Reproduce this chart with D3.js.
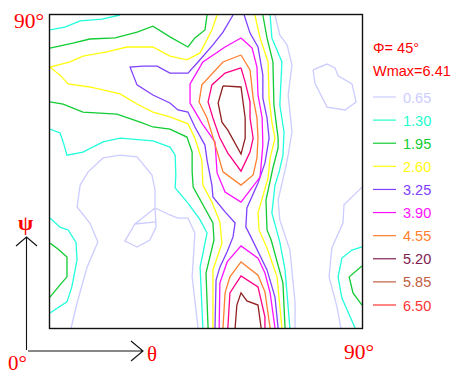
<!DOCTYPE html>
<html><head><meta charset="utf-8">
<script src="https://cdn.jsdelivr.net/npm/d3@7"></script>
<style>html,body{margin:0;background:#fff}svg{display:block}</style></head>
<body><script>
// Contour levels of the pole figure (theta, psi in degrees)
const legendLabels = ["0.65","1.30","1.95","2.60","3.25","3.90","4.55","5.20","5.85","6.50"];
const legendColors = ["#ccccff","#22ffcc","#11cc33","#ffff11","#8040ff","#ff11ff","#ff8030","#802050","#c06040","#ff3333"];
const lineColors   = ["#ccccff","#22ffdd","#11cc33","#ffff11","#8040ff","#ff11ff","#ff8030","#ff0088","#902020"];

const level065 = [
 [[6.1,0],[7.8,7.2],[10.7,17.5],[13.8,24.7],[11.5,30.2],[7.8,34.8],[8.7,41.1],[11,44.9],[15.3,48.9],[20.2,49.7],[25.1,49.2],[29.4,44],[30.3,39.7],[30.3,34.5],[30.6,29],[28.8,25.3],[25.1,23.3],[21.6,25],[24.5,29.9],[30.3,34.5],[34.6,32.5],[36.9,31.6],[39.8,31.6],[41.8,27.3],[41,14.7],[42.7,0]],
 [[24.5,29.9],[30.6,30.5]],
 [[64.9,90],[66.3,84.2],[68.4,81.4],[69.8,75.6],[68.7,67],[69.8,56.4],[68.7,49.7],[67.8,45.4],[65.8,36.8],[66.3,31.1],[69.2,22.4],[70.7,7.2],[70.7,0]],
 [[90,40.5],[84.8,35.4],[84.5,30.2],[81.3,23],[80.5,14.7],[82.8,6],[83.9,0]],
 [[75.9,74.2],[79.9,75.9],[82.2,74.8],[83.1,72.5],[87.1,70.2],[88.3,65],[85.1,62.7],[79.9,63.5],[76.4,70.4],[75.9,74.2]]
];
const level130 = [
 [[0,85.7],[4.3,86.5],[8.7,88.3],[15,88.8],[20.2,90]],
 [[0,57.2],[2.9,56.1],[3.8,53.5],[4.9,49.7],[9.5,50.6],[15.3,53.5],[20.2,54.6],[29.7,53.8],[34.6,52],[36.1,49.7],[36.3,44],[36.1,40.3],[39.8,35.9],[43.3,31.1],[45.3,27.3],[43.3,17.5],[44.1,0]],
 [[63.5,90],[64,83.4],[66.9,76.5],[66.3,64.1],[67.5,56.4],[67.2,49.7],[66.1,44.9],[64.9,41.1],[64,33.1],[66.3,24.7],[67.8,16.7],[69.2,0]],
 [[0,31.6],[2.9,29],[5.2,28.2],[7.5,24.7],[7.8,19.6],[6.3,11.8],[4.9,7.5],[0,4.3]],
 [[90,23.3],[87.1,22.4],[84.2,20.1],[83.1,14.7],[84.2,8.6],[88,0]]
];
const level195 = [
 [[0,80.5],[6.6,81.9],[11.5,83.1],[18.8,83.4],[25.1,85.1],[29.7,86.8],[34.6,83.7],[39.8,80.8],[41.8,83.4],[44.7,85.7],[45.3,90]],
 [[0,65],[3.8,64.4],[9.5,62.1],[19.3,61.5],[26,59.2],[29.7,57.8],[34.6,57.2],[39.5,54.9],[41,50.6],[41,44.9],[41.3,40.5],[47,30.2],[47.3,25.3],[45,15.8],[45.6,0]],
 [[61.4,90],[62.6,83.4],[64.3,76.5],[64.6,64.1],[65.8,54.6],[65.8,51.8],[64.3,46],[62.3,36.8],[62.6,28.2],[63.8,25.3],[67.2,12.9],[67.8,0]],
 [[0,24.4],[2.3,22.7],[4.9,20.4],[4.9,14.7],[2.9,12.4],[0,8.9]],
 [[90,17.8],[86.3,14.7],[87.4,10.1],[90,6.6]]
];
const level260 = [
 [[48.2,90],[46.7,85.7],[43.3,79.1],[39.5,77.1],[34.6,78.2],[29.7,80.8],[22.2,80.8],[16.4,79.4],[9.5,78.2],[5.8,76.5],[0,75],[2.9,72.7],[5.2,70.2],[11.5,69.3],[20.2,67.3],[25.1,64.4],[29.7,62.1],[34.6,60.7],[39.8,58.7],[41.8,54.6],[43.8,48.3],[44.1,41.1],[46.7,36.2],[49,30.5],[49.6,24.4],[47,16.7],[47,0]],
 [[59.1,90],[60.6,83.4],[62.9,76.5],[63.2,66.1],[64,59.2],[64.9,54.6],[63.5,48.9],[62.9,43.1],[60,33.1],[60.3,28.2],[62.6,23],[65.5,14.7],[66.9,0]]
];
const level325 = [
 [[52.8,90],[49.9,85.1],[47,81.4],[42.7,76.5],[39.8,73.3],[34.6,73.3],[30.9,75.3],[26.8,75.3],[23.1,75],[25.1,69.9],[29.7,67],[34.6,64.7],[36.9,62.7],[39.8,62.1],[41.8,57.8],[44.7,52.6],[45.3,48.3],[46.7,41.1],[47,37.7],[50.5,33.4],[53.4,30.2],[52.8,26.2],[51.1,21.9],[49,17.5],[47.9,13.8],[47.6,0]],
 [[56,90],[57.7,84.8],[60,80.8],[61.4,72.7],[61.4,66.1],[62.6,60.4],[63.2,54.6],[62,47.4],[60,41.7],[56.8,34.5],[56.5,29],[57.7,26.7],[62.6,16.7],[64.9,8.9],[65.8,0]]
];
const level390 = [
 [[55.1,83.4],[58.3,80.5],[59.7,75],[60,67],[61.2,60.4],[61.4,52.6],[60.6,43.4],[55.1,36.2],[50.5,39.1],[48.2,44.6],[47.6,53.5],[43.8,58.9],[40.4,64.7],[40.4,70.2],[44.1,76.5],[50.5,80.8],[55.1,83.4]],
 [[48.8,0],[49,12.9],[51.1,19],[55.1,23.6],[60,20.1],[62,15.8],[63.5,10.1],[64.9,0]]
];
const level455 = [
 [[55.1,78.5],[57.7,74.2],[58.6,66.1],[59.7,60.4],[60,54.6],[59.7,48.9],[58.6,44],[55.1,41.1],[49.9,44.9],[47,54.9],[45.3,60.4],[43,65],[43.8,69.9],[49.9,76.5],[55.1,78.5]],
 [[49.9,0],[50.5,10.1],[51.9,14.7],[55.1,19],[60,15.2],[62,10.4],[63.5,0]]
];
const level520 = [
 [[55.1,74.8],[56.3,70.7],[57.7,65],[57.7,60.4],[58.6,54.6],[57.7,50.6],[55.1,45.1],[51.3,50.3],[49,54.6],[47,60.4],[45.6,65],[46.7,69.9],[50.5,73.3],[55.1,74.8]],
 [[51.3,0],[51.9,10.1],[55.1,15],[60,11.8],[62,3.2],[62,0]]
];
const level585 = [
 [[49.9,69.6],[55.1,69.3],[56.3,60.4],[56.3,54.6],[55.1,50],[51.3,56.9],[49.6,59.2],[48.5,64.7],[49.9,69.6]],
 [[53.4,0],[53.9,6.6],[55.1,10.1],[56.8,7.8],[60,6.6],[60.9,0]]
];
const contourLevels = [level065,level130,level195,level260,level325,level390,level455,level520,level585];
const axisMax = 90;
const phiLabel = "Φ= 45°", wmaxLabel = "Wmax=6.41";

const W=464,H=379, L=50,R=362,T=15,B=328;
const svg=d3.select("body").append("svg").attr("width",W).attr("height",H);
const x=d3.scaleLinear().domain([0,axisMax]).range([L,R]);
const y=d3.scaleLinear().domain([0,axisMax]).range([B,T]);
const line=d3.line().x(d=>x(d[0])).y(d=>y(d[1]));

svg.append("g").selectAll("g").data(contourLevels).join("g")
  .attr("stroke",(d,i)=>lineColors[i]).attr("fill","none").attr("stroke-width",1.3)
  .selectAll("path").data(d=>d).join("path").attr("d",line);

svg.append("rect").attr("x",L-.5).attr("y",T-.5).attr("width",R-L+1).attr("height",B-T+1)
  .attr("fill","none").attr("stroke","#111").attr("stroke-width",1.4);

// Axis arrows
const ax=svg.append("g").attr("stroke","#111").attr("fill","none").attr("stroke-width",1.1);
ax.append("path").attr("d","M26.5,350V237M16,246L26.5,237L37,246");
ax.append("path").attr("d","M28,351H143M131,341L143,351L131,361");

const serif="'Liberation Serif',serif", sans="'Liberation Sans',Arial,sans-serif";
const txt=(s,px,py,size,fam,col="#ff0000")=>svg.append("text").attr("x",px).attr("y",py)
  .attr("font-family",fam).attr("font-size",size).attr("fill",col).text(s);
txt(axisMax+"°",14,28,21.5,serif);
txt(axisMax+"°",344,359,21.5,serif);
txt("0°",8,370,21,serif);
txt("θ",147,361,21,serif);
txt("ψ",18,230,22,serif).attr("font-weight","bold");
txt(phiLabel,373,53,14.5,sans);
txt(wmaxLabel,373,76,14.5,sans);

const legendY=d3.scalePoint().domain(legendLabels).range([97,305]);
const lg=svg.append("g").selectAll("g").data(legendLabels).join("g")
  .attr("transform",d=>`translate(0,${legendY(d)})`);
lg.append("line").attr("x1",373).attr("x2",396).attr("stroke",(d,i)=>legendColors[i]).attr("stroke-width",1.2);
lg.append("text").attr("x",403).attr("y",5.5).attr("font-family",sans).attr("font-size",14.5)
  .attr("fill",(d,i)=>legendColors[i]).text(d=>d);
</script></body></html>
